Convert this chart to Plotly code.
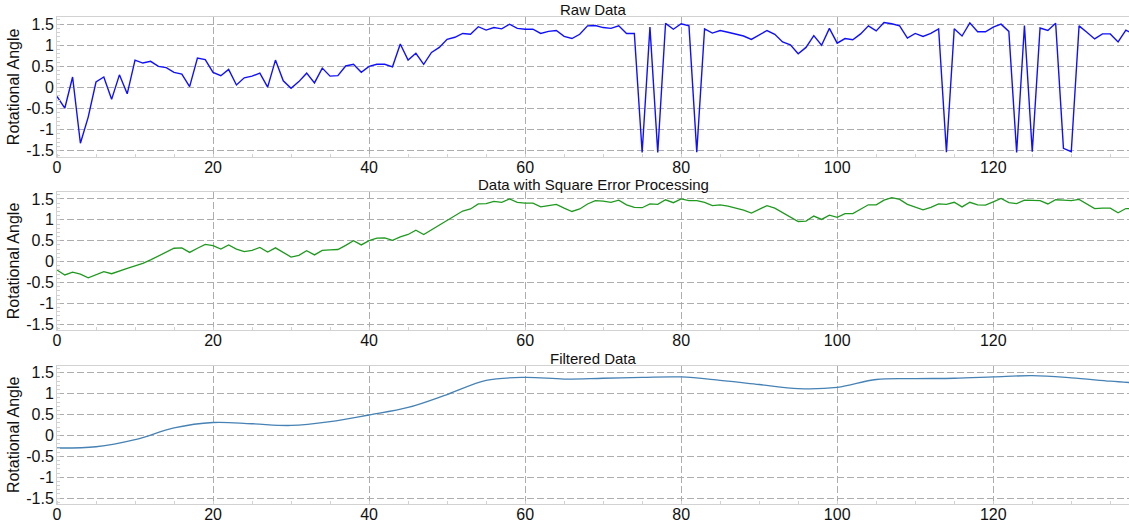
import plotly.graph_objects as go

# Rotational angle samples, one per frame index
raw_angle = [
    -0.21, -0.49, 0.25, -1.32, -0.70, 0.13, 0.25, -0.28, 0.30, -0.15,
    0.65, 0.58, 0.62, 0.50, 0.47, 0.36, 0.32, 0.02, 0.70, 0.66,
    0.36, 0.28, 0.43, 0.06, 0.23, 0.27, 0.34, 0.01, 0.65, 0.16,
    -0.02, 0.14, 0.34, 0.11, 0.46, 0.27, 0.28, 0.51, 0.55, 0.36,
    0.50, 0.55, 0.55, 0.49, 1.03, 0.65, 0.81, 0.55, 0.83, 0.95,
    1.14, 1.19, 1.28, 1.26, 1.44, 1.36, 1.42, 1.39, 1.50, 1.40,
    1.38, 1.38, 1.28, 1.33, 1.35, 1.21, 1.16, 1.26, 1.46, 1.47,
    1.42, 1.40, 1.46, 1.28, 1.28, -1.54, 1.43, -1.54, 1.52, 1.38,
    1.51, 1.46, -1.53, 1.39, 1.29, 1.35, 1.31, 1.27, 1.22, 1.14,
    1.24, 1.35, 1.26, 1.08, 1.01, 0.80, 0.95, 1.23, 1.00, 1.40,
    1.05, 1.16, 1.13, 1.27, 1.46, 1.34, 1.54, 1.51, 1.46, 1.17,
    1.28, 1.21, 1.28, 1.39, -1.53, 1.39, 1.22, 1.53, 1.32, 1.32,
    1.43, 1.50, 1.33, -1.54, 1.47, -1.52, 1.41, 1.35, 1.52, -1.44,
    -1.52, 1.46, 1.31, 1.15, 1.27, 1.27, 1.08, 1.36, 1.26,
]

square_error_angle = [
    -0.20, -0.32, -0.25, -0.30, -0.39, -0.32, -0.24, -0.29, -0.22, -0.16,
    -0.10, -0.04, 0.04, 0.13, 0.23, 0.32, 0.33, 0.22, 0.32, 0.41,
    0.38, 0.30, 0.40, 0.30, 0.24, 0.27, 0.34, 0.23, 0.33, 0.22,
    0.11, 0.15, 0.26, 0.16, 0.27, 0.28, 0.29, 0.39, 0.50, 0.40,
    0.50, 0.56, 0.57, 0.51, 0.59, 0.65, 0.75, 0.65, 0.76, 0.87,
    0.98, 1.10, 1.21, 1.26, 1.38, 1.39, 1.44, 1.42, 1.50, 1.42,
    1.40, 1.40, 1.31, 1.34, 1.37, 1.28, 1.20, 1.26, 1.38, 1.46,
    1.45, 1.42, 1.47, 1.36, 1.30, 1.29, 1.38, 1.37, 1.48, 1.41,
    1.50, 1.46, 1.46, 1.42, 1.34, 1.36, 1.33, 1.28, 1.23, 1.16,
    1.26, 1.34, 1.28, 1.17, 1.07, 0.96, 0.97, 1.09, 1.01, 1.11,
    1.06, 1.15, 1.15, 1.26, 1.36, 1.36, 1.47, 1.53, 1.49, 1.37,
    1.31, 1.24, 1.30, 1.38, 1.37, 1.42, 1.31, 1.42, 1.36, 1.35,
    1.43, 1.51, 1.41, 1.39, 1.47, 1.46, 1.46, 1.38, 1.48, 1.47,
    1.46, 1.49, 1.38, 1.27, 1.28, 1.28, 1.17, 1.27, 1.26,
]

# Smoothed output, sampled every 5 frames
filtered_frames = [0, 5, 10, 15, 20, 25, 30, 35, 40, 45, 50, 55, 60, 65,
                   70, 75, 80, 85, 90, 95, 100, 105, 110, 115, 120, 125,
                   130, 135, 138]
filtered_angle = [-0.30, -0.27, -0.10, 0.18, 0.31, 0.28, 0.24, 0.33, 0.49,
                  0.67, 0.98, 1.32, 1.39, 1.35, 1.37, 1.39, 1.40, 1.32,
                  1.22, 1.12, 1.15, 1.34, 1.36, 1.37, 1.40, 1.43, 1.38,
                  1.30, 1.26]

panel_titles = ["Raw Data", "Data with Square Error Processing", "Filtered Data"]
x_ticks = [0, 20, 40, 60, 80, 100, 120]
y_ticks = [-1.5, -1, -0.5, 0, 0.5, 1, 1.5]
y_tick_text = ["-1.5", "-1", "-0.5", "0", "0.5", "1", "1.5"]

frames = list(range(len(raw_angle)))

FONT = "Liberation Sans, Arial, Helvetica, sans-serif"
INK = "#111111"
GRID = "#adadad"
BORDER = "#d2d2d2"
X_RANGE = [0, 137.4]
Y_RANGE = [-1.64, 1.67]
FS = 16
TITLE_FS = 15

domains = [[0.713, 1.0], [0.357, 0.641], [0.0, 0.284]]

fig = go.Figure()
fig.add_trace(go.Scatter(x=frames, y=raw_angle, mode="lines",
                         line=dict(color="#1010ff", width=1.4),
                         xaxis="x", yaxis="y", showlegend=False))
fig.add_trace(go.Scatter(x=frames, y=square_error_angle, mode="lines",
                         line=dict(color="#1f9a1f", width=1.3),
                         xaxis="x2", yaxis="y2", showlegend=False))
fig.add_trace(go.Scatter(x=filtered_frames, y=filtered_angle, mode="lines",
                         line=dict(color="#4682b4", width=1.3, shape="spline",
                                   smoothing=1.0),
                         xaxis="x3", yaxis="y3", showlegend=False))

layout = dict(
    width=1129, height=531,
    margin=dict(l=57, r=0, t=17, b=27),
    paper_bgcolor="white", plot_bgcolor="white",
    font=dict(family=FONT, size=FS, color=INK),
    annotations=[],
)

for i, dom in enumerate(domains):
    sx = "" if i == 0 else str(i + 1)
    layout["xaxis" + sx] = dict(
        domain=[0, 1], anchor="y" + sx, range=X_RANGE,
        tickmode="array", tickvals=x_ticks, ticks="", ticklen=0,
        ticklabelstandoff=-4,
        showgrid=True, gridcolor=GRID, griddash="7px,3px", gridwidth=1,
        zeroline=False, showline=True, linecolor=BORDER, linewidth=1,
        mirror=True,
        minor=dict(dtick=5, tick0=0, ticks="inside", ticklen=3,
                   tickcolor=BORDER, showgrid=False),
        tickfont=dict(size=FS, color=INK),
    )
    layout["yaxis" + sx] = dict(
        domain=dom, anchor="x" + sx, range=Y_RANGE,
        tickmode="array", tickvals=y_ticks, ticktext=y_tick_text,
        ticks="", ticklabelstandoff=-1,
        showgrid=True, gridcolor=GRID, griddash="7px,3px",
        gridwidth=1, zeroline=False, showline=True, linecolor=BORDER,
        linewidth=1, mirror=True,
        minor=dict(dtick=0.1, tick0=0, ticks="inside", ticklen=3,
                   tickcolor=BORDER, showgrid=False),
        tickfont=dict(size=FS, color=INK),
        title=dict(text="Rotational Angle", standoff=2,
                   font=dict(size=FS, color=INK)),
    )
    layout["annotations"].append(dict(
        text=panel_titles[i], xref="paper", yref="paper",
        x=0.5, y=dom[1], xanchor="center", yanchor="bottom",
        yshift=-3, showarrow=False,
        font=dict(size=TITLE_FS, color=INK, family=FONT),
    ))

fig.update_layout(**layout)
fig.write_html("out.html")
